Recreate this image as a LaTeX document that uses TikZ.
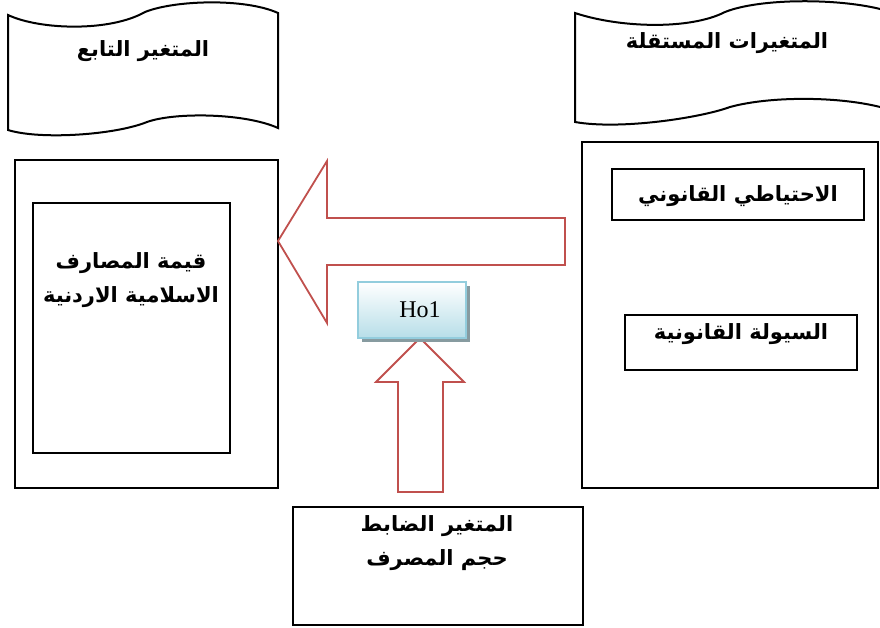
\documentclass[tikz,border=0pt]{standalone}
\usepackage{fontspec}
\setmainfont{Liberation Serif}
\newfontfamily\arabicfont[Script=Arabic]{DejaVu Sans}
\TeXXeTstate=1
\usetikzlibrary{positioning,shadows}
\definecolor{arrowred}{RGB}{192,80,77}
\definecolor{hoedge}{RGB}{147,205,221}
\definecolor{hofill}{RGB}{183,222,232}
\definecolor{hoshadow}{RGB}{135,155,160}
\tikzstyle{boxframe}=[draw, line width=2pt, inner sep=0pt]
\tikzstyle{artext}=[font=\arabicfont\bfseries\fontsize{21}{34}\selectfont, align=center]
\tikzstyle{blockarrow}=[draw=arrowred, line width=1.8pt, line join=miter]
\tikzstyle{hobox}=[draw=hoedge, line width=1.6pt, top color=white, bottom color=hofill,
    minimum width=108pt, minimum height=56pt, font=\fontsize{24}{26}\selectfont,
    drop shadow={fill=hoshadow, shadow xshift=4pt, shadow yshift=-4pt, opacity=1}]

\begin{document}
\begin{tikzpicture}[x=1pt, y=-1pt]
    \useasboundingbox (0,0) rectangle (880,627);
    % dependent variable
    \draw[line width=2pt] (8,15) .. controls (40,30) and (110,32) .. (145,12)
      .. controls (175,0) and (245,-2) .. (278,13) -- (278,128)
      .. controls (245,113) and (175,112) .. (147,122)
      .. controls (115,135) and (40,140) .. (8,130) -- cycle;
    \node[artext] (deptitle) at (143,51) {\beginR المتغير التابع\endR};
    % independent variables
    \draw[line width=2pt] (575,13) .. controls (620,28) and (690,30) .. (725,12)
      .. controls (760,-2) and (840,-2) .. (884,10) -- (884,108)
      .. controls (840,96) and (770,96) .. (730,107)
      .. controls (700,118) and (620,130) .. (575,122) -- cycle;
    \node[artext] (indtitle) at (727,43) {\beginR المتغيرات المستقلة\endR};

    \node[boxframe, minimum width=263pt, minimum height=328pt] (depouter) at (146.5,324) {};
    \node[boxframe, minimum width=197pt, minimum height=250pt] (depinner) at (131.5,328) {};
    \node[artext] (depname) at (131,280) {\beginR قيمة المصارف\endR\\\beginR الاسلامية الاردنية\endR};

    \node[boxframe, minimum width=296pt, minimum height=346pt] (indouter) at (730,315) {};
    \node[boxframe, minimum width=252pt, minimum height=51pt] (reserve) at (738,194.5) {};
    \node[artext] at (738,196) {\beginR الاحتياطي القانوني\endR};
    \node[boxframe, minimum width=232pt, minimum height=55pt] (liquid) at (741,342.5) {};
    \node[artext] at (741,334) {\beginR السيولة القانونية\endR};

    % arrows
    \draw[blockarrow] (278,241) -- (327,161) -- (327,218) -- (565,218) -- (565,265)
      -- (327,265) -- (327,323) -- cycle;
    \draw[blockarrow] (420,338) -- (464,382) -- (443,382) -- (443,492) -- (398,492)
      -- (398,382) -- (376,382) -- cycle;
    \node[hobox] (ho) at (412,310) {\hspace{16pt}Ho1};

    % control variable
    \node[boxframe, minimum width=290pt, minimum height=118pt] (control) at (438,566) {};
    \node[artext] at (437,543) {\beginR المتغير الضابط\endR\\\beginR حجم المصرف\endR};
\end{tikzpicture}
\end{document}
